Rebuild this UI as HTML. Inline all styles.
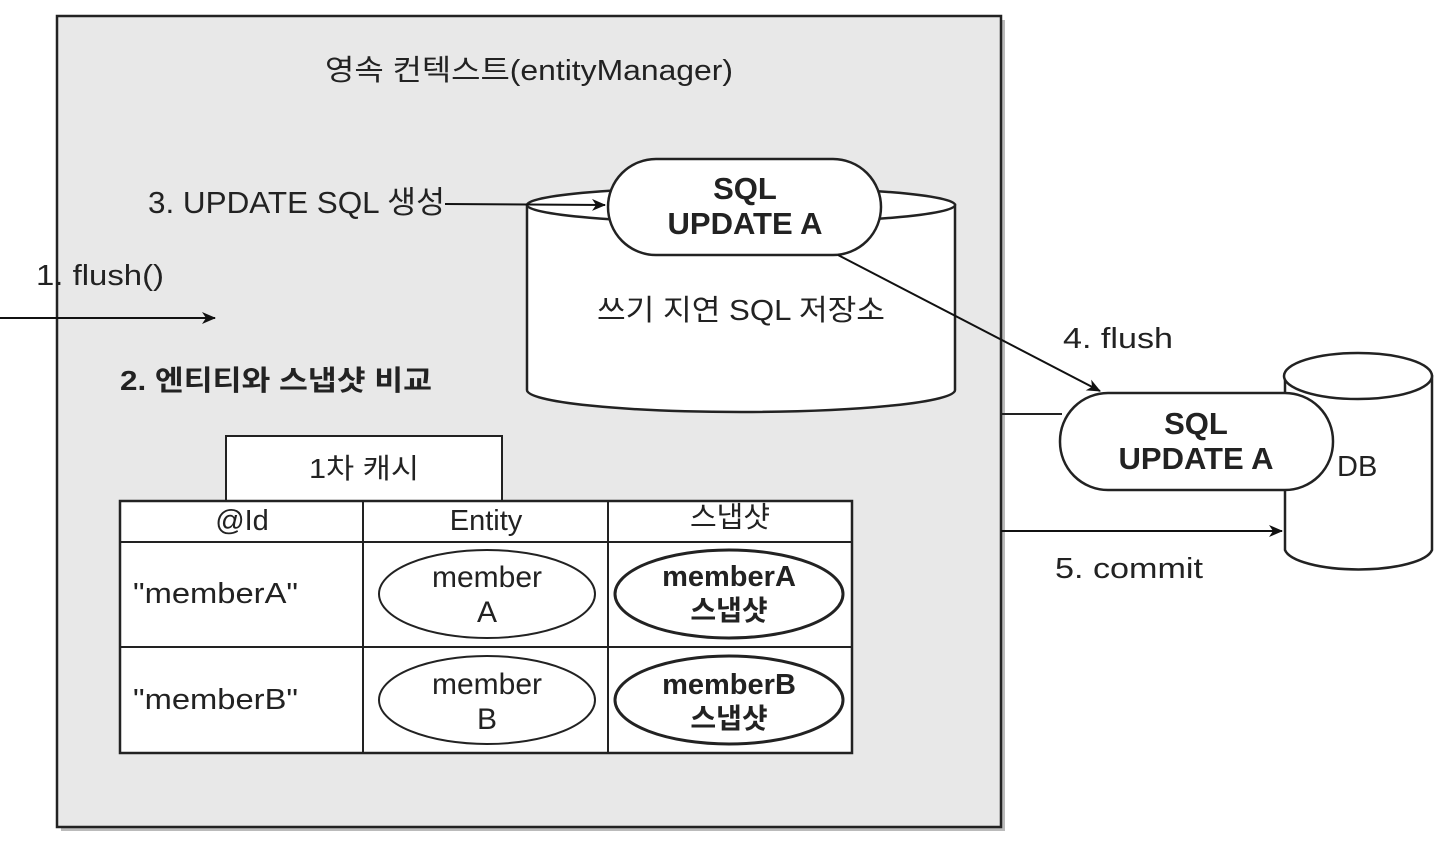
<!DOCTYPE html>
<html><head><meta charset="utf-8"><style>
html,body{margin:0;padding:0;background:#fff;}
svg{display:block;}
text{font-family:"Liberation Sans","Noto Sans CJK KR",sans-serif;fill:#222;}
</style></head><body>
<svg width="1449" height="841" viewBox="0 0 1449 841" xmlns="http://www.w3.org/2000/svg">
<defs>
<marker id="ah" markerWidth="14" markerHeight="12" refX="13" refY="6" orient="auto" markerUnits="userSpaceOnUse">
<path d="M0,0 L14,6 L0,12 L4,6 Z" fill="#111"/>
</marker>
</defs>
<rect x="61" y="20" width="944" height="811" fill="#bbb"/>
<rect x="57" y="16" width="944" height="811" fill="#e8e8e8" stroke="#222" stroke-width="2.5"/>
<text x="325" y="80" font-size="29" textLength="408" lengthAdjust="spacingAndGlyphs">영속 컨텍스트(entityManager)</text>

<!-- cylinder -->
<path d="M527,205 L527,390 A214,22 0 0 0 955,390 L955,205 Z" fill="#fff" stroke="#222" stroke-width="2.5"/>
<ellipse cx="741" cy="205" rx="214" ry="18" fill="#fff" stroke="#222" stroke-width="2.5"/>
<rect x="608" y="159" width="273" height="96" rx="48" fill="#fff" stroke="#222" stroke-width="2.5"/>
<text x="745" y="199" font-size="31" text-anchor="middle" font-weight="bold">SQL</text>
<text x="745" y="234" font-size="31" text-anchor="middle" font-weight="bold">UPDATE A</text>
<text x="597" y="320" font-size="29" textLength="288" lengthAdjust="spacingAndGlyphs">쓰기 지연 SQL 저장소</text>

<text x="148" y="213" font-size="31" textLength="297" lengthAdjust="spacingAndGlyphs">3. UPDATE SQL 생성</text>
<line x1="445" y1="204" x2="605" y2="205" stroke="#111" stroke-width="2" marker-end="url(#ah)"/>

<text x="36" y="285" font-size="29" textLength="128" lengthAdjust="spacingAndGlyphs">1. flush()</text>
<line x1="0" y1="318" x2="215" y2="318" stroke="#111" stroke-width="2" marker-end="url(#ah)"/>

<text x="120" y="390" font-size="28" font-weight="bold" textLength="312" lengthAdjust="spacingAndGlyphs">2. 엔티티와 스냅샷 비교</text>

<!-- cache -->
<rect x="226" y="436" width="276" height="65" fill="#fff" stroke="#222" stroke-width="2"/>
<text x="309" y="478" font-size="28" textLength="110" lengthAdjust="spacingAndGlyphs">1차 캐시</text>
<rect x="120" y="501" width="732" height="252" fill="#fff" stroke="#222" stroke-width="2.5"/>
<line x1="363" y1="501" x2="363" y2="753" stroke="#222" stroke-width="2"/>
<line x1="608" y1="501" x2="608" y2="753" stroke="#222" stroke-width="2"/>
<line x1="120" y1="542" x2="852" y2="542" stroke="#222" stroke-width="2"/>
<line x1="120" y1="647" x2="852" y2="647" stroke="#222" stroke-width="2"/>
<text x="242" y="530" font-size="29" text-anchor="middle">@Id</text>
<text x="486" y="530" font-size="29" text-anchor="middle">Entity</text>
<text x="730" y="527" font-size="29" text-anchor="middle">스냅샷</text>

<text x="133" y="603" font-size="29" textLength="165" lengthAdjust="spacingAndGlyphs">"memberA"</text>
<text x="133" y="709" font-size="29" textLength="165" lengthAdjust="spacingAndGlyphs">"memberB"</text>
<ellipse cx="487" cy="594" rx="108" ry="44" fill="#fff" stroke="#222" stroke-width="2"/>
<text x="487" y="587" font-size="30" text-anchor="middle">member</text>
<text x="487" y="622" font-size="30" text-anchor="middle">A</text>
<ellipse cx="487" cy="700" rx="108" ry="44" fill="#fff" stroke="#222" stroke-width="2"/>
<text x="487" y="694" font-size="30" text-anchor="middle">member</text>
<text x="487" y="729" font-size="30" text-anchor="middle">B</text>
<ellipse cx="729" cy="594" rx="114" ry="44" fill="#fff" stroke="#222" stroke-width="3"/>
<text x="729" y="586" font-size="29" font-weight="bold" text-anchor="middle">memberA</text>
<text x="729" y="620" font-size="28" font-weight="bold" text-anchor="middle">스냅샷</text>
<ellipse cx="729" cy="700" rx="114" ry="44" fill="#fff" stroke="#222" stroke-width="3"/>
<text x="729" y="694" font-size="29" font-weight="bold" text-anchor="middle">memberB</text>
<text x="729" y="728" font-size="28" font-weight="bold" text-anchor="middle">스냅샷</text>

<!-- flush arrow -->
<line x1="838" y1="255" x2="1100" y2="391" stroke="#111" stroke-width="2" marker-end="url(#ah)"/>
<text x="1063" y="348" font-size="29" textLength="110" lengthAdjust="spacingAndGlyphs">4. flush</text>

<!-- DB -->
<path d="M1285,376 L1285,550 A74,22 0 0 0 1432,550 L1432,376 Z" fill="#fff" stroke="#222" stroke-width="2.5"/>
<ellipse cx="1358" cy="376" rx="74" ry="23" fill="#fff" stroke="#222" stroke-width="2.5"/>
<text x="1337" y="476" font-size="29">DB</text>

<line x1="1001" y1="414" x2="1062" y2="414" stroke="#222" stroke-width="2"/>
<rect x="1060" y="393" width="273" height="97" rx="48" fill="#fff" stroke="#222" stroke-width="2.5"/>
<text x="1196" y="434" font-size="31" font-weight="bold" text-anchor="middle">SQL</text>
<text x="1196" y="469" font-size="31" font-weight="bold" text-anchor="middle">UPDATE A</text>

<line x1="1001" y1="531" x2="1282" y2="531" stroke="#111" stroke-width="2" marker-end="url(#ah)"/>
<text x="1055" y="578" font-size="29" textLength="148" lengthAdjust="spacingAndGlyphs">5. commit</text>
</svg>
</body></html>
